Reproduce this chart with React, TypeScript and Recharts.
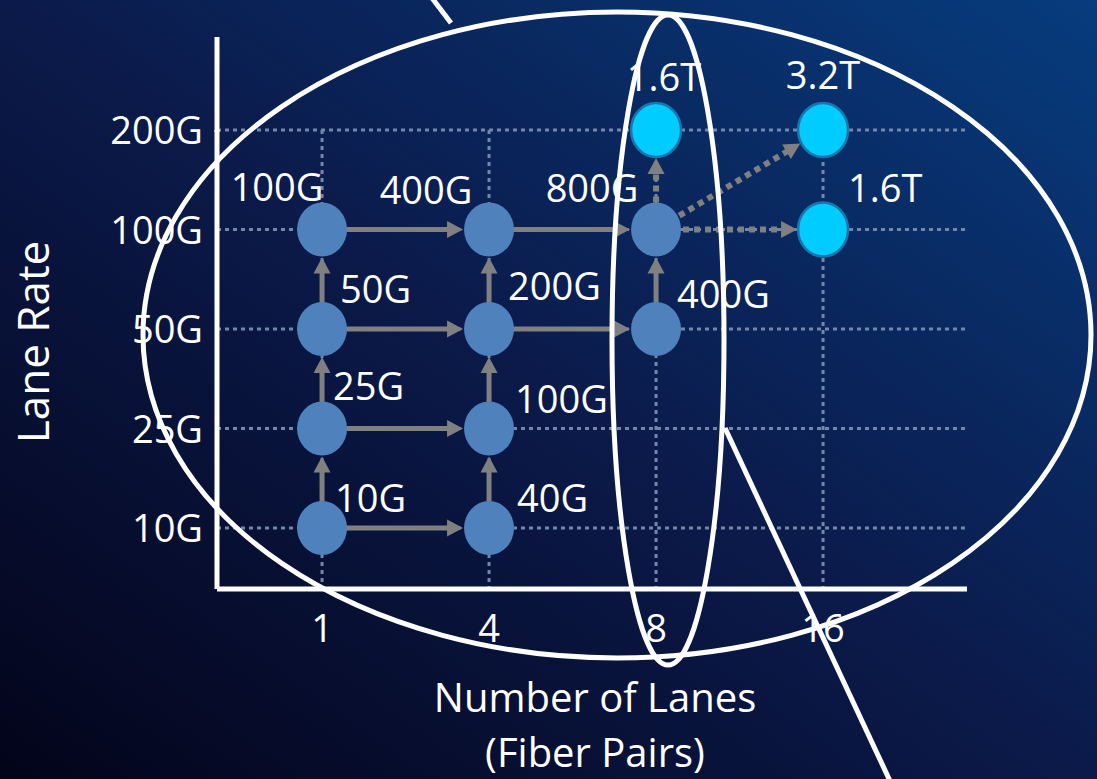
import { ScatterChart, Scatter, XAxis, YAxis, CartesianGrid, ReferenceLine } from 'recharts';

const lanes = ['1', '4', '8', '16'];
const rates = ['10G', '25G', '50G', '100G', '200G'];

const bluePoints = [
  { lane: '1', rate: '10G', label: '10G' },
  { lane: '1', rate: '25G', label: '25G' },
  { lane: '1', rate: '50G', label: '50G' },
  { lane: '1', rate: '100G', label: '100G' },
  { lane: '4', rate: '10G', label: '40G' },
  { lane: '4', rate: '25G', label: '100G' },
  { lane: '4', rate: '50G', label: '200G' },
  { lane: '4', rate: '100G', label: '400G' },
  { lane: '8', rate: '50G', label: '400G' },
  { lane: '8', rate: '100G', label: '800G' },
];

const cyanPoints = [
  { lane: '8', rate: '200G', label: '1.6T' },
  { lane: '16', rate: '200G', label: '3.2T' },
  { lane: '16', rate: '100G', label: '1.6T' },
];

// [fromLane, fromRate, toLane, toRate]
const solidArrows = [
  ['1', '10G', '4', '10G'],
  ['1', '25G', '4', '25G'],
  ['1', '50G', '4', '50G'],
  ['1', '100G', '4', '100G'],
  ['4', '50G', '8', '50G'],
  ['4', '100G', '8', '100G'],
  ['1', '10G', '1', '25G'],
  ['1', '25G', '1', '50G'],
  ['1', '50G', '1', '100G'],
  ['4', '10G', '4', '25G'],
  ['4', '25G', '4', '50G'],
  ['4', '50G', '4', '100G'],
  ['8', '50G', '8', '100G'],
];

const dottedArrows = [
  ['8', '100G', '8', '200G'],
  ['8', '100G', '16', '200G'],
  ['8', '100G', '16', '100G'],
];

// label offsets from the point centre
const placement: Record<string, { dx: number; dy: number; anchor: 'start' | 'middle' | 'end' }> = {
  '1-10G': { dx: 13, dy: -16, anchor: 'start' },
  '1-25G': { dx: 11, dy: -29, anchor: 'start' },
  '1-50G': { dx: 18, dy: -26, anchor: 'start' },
  '1-100G': { dx: -45, dy: -29, anchor: 'middle' },
  '4-10G': { dx: 28, dy: -16, anchor: 'start' },
  '4-25G': { dx: 26, dy: -16, anchor: 'start' },
  '4-50G': { dx: 19, dy: -29, anchor: 'start' },
  '4-100G': { dx: -63, dy: -26, anchor: 'middle' },
  '8-50G': { dx: 21, dy: -21, anchor: 'start' },
  '8-100G': { dx: -64, dy: -28, anchor: 'middle' },
  '8-200G': { dx: 8, dy: -39, anchor: 'middle' },
  '16-200G': { dx: 0, dy: -41, anchor: 'middle' },
  '16-100G': { dx: 25, dy: -28, anchor: 'start' },
};

const FONT = '"Open Sans", "Noto Sans", sans-serif';
const RX = 25;
const RY = 27;
const ARROW = '#808080';
const GRID = '#7387ab';
const X_DOMAIN = [-0.629, 3.862];

const pos = (lane: string, rate: string) => ({ x: lanes.indexOf(lane), y: rates.indexOf(rate) });
const toData = (pts: typeof bluePoints) => pts.map((p) => ({ ...p, ...pos(p.lane, p.rate) }));

const pointShape = (fill: string, stroke?: string) => (props: any) => {
  const { cx, cy, payload } = props;
  const p = placement[`${payload.lane}-${payload.rate}`];
  return (
    <g>
      <ellipse cx={cx} cy={cy} rx={RX} ry={RY} fill={fill} stroke={stroke || 'none'} strokeWidth={2.5} />
      <text x={cx + p.dx} y={cy + p.dy} textAnchor={p.anchor} fill="#fff" fontSize={38} fontFamily={FONT}>
        {payload.label}
      </text>
    </g>
  );
};

const arrowShape = (dotted: boolean) => (props: any) => {
  const { x1, y1, x2, y2 } = props;
  const dx = x2 - x1;
  const dy = y2 - y1;
  const len = Math.hypot(dx, dy);
  if (!len) return <g />;
  const ux = dx / len;
  const uy = dy / len;
  const edge = 1 / Math.sqrt((ux / RX) ** 2 + (uy / RY) ** 2);
  const start = dotted ? 16 : edge - 3;
  const tip = len - edge - 1;
  const head = 16;
  const half = 8.5;
  const sx = x1 + ux * start;
  const sy = y1 + uy * start;
  const tx = x1 + ux * tip;
  const ty = y1 + uy * tip;
  const bx = tx - ux * head;
  const by = ty - uy * head;
  return (
    <g>
      <line
        x1={sx}
        y1={sy}
        x2={bx + ux}
        y2={by + uy}
        stroke={ARROW}
        strokeWidth={dotted ? 6 : 5}
        strokeDasharray={dotted ? '6 5' : undefined}
      />
      <polygon
        points={`${tx},${ty} ${bx - uy * half},${by + ux * half} ${bx + uy * half},${by - ux * half}`}
        fill={ARROW}
      />
    </g>
  );
};

const XTick = (props: any) => {
  const { x, y, payload } = props;
  return (
    <text x={x} y={y + 45} textAnchor="middle" fill="#fff" fontSize={38} fontFamily={FONT}>
      {lanes[payload.value]}
    </text>
  );
};

const YTick = (props: any) => {
  const { x, y, payload } = props;
  return (
    <text x={x - 6} y={y + 14} textAnchor="end" fill="#fff" fontSize={38} fontFamily={FONT}>
      {rates[payload.value]}
    </text>
  );
};

const laneGrid = (args: any) => {
  const { xAxis, offset } = args;
  return lanes.map((_, i) => {
    if (xAxis && typeof xAxis.scale === 'function') return xAxis.scale(i);
    return offset.left + ((i - X_DOMAIN[0]) / (X_DOMAIN[1] - X_DOMAIN[0])) * offset.width;
  });
};

export default function App() {
  return (
    <div
      style={{
        position: 'absolute',
        left: 0,
        top: 0,
        width: 1097,
        height: 779,
        overflow: 'hidden',
        background: 'linear-gradient(to top right, #03041a 0%, #0b1a4a 50%, #073c7e 100%)',
      }}
    >
      <ScatterChart width={1097} height={779} margin={{ top: 130, right: 130, bottom: 130, left: 0 }}>
        <CartesianGrid
          stroke={GRID}
          strokeDasharray="4 4"
          strokeWidth={3}
          verticalCoordinatesGenerator={laneGrid}
        />
        <XAxis
          type="number"
          dataKey="x"
          domain={X_DOMAIN}
          ticks={[0, 1, 2, 3]}
          height={60}
          axisLine={{ stroke: '#fff', strokeWidth: 5 }}
          tickLine={false}
          tick={<XTick />}
        />
        <YAxis
          type="number"
          dataKey="y"
          domain={[-0.613, 4]}
          ticks={[0, 1, 2, 3, 4]}
          width={217}
          axisLine={{ stroke: '#fff', strokeWidth: 5 }}
          tickLine={false}
          tick={<YTick />}
        />
        <Scatter data={toData(bluePoints)} shape={pointShape('#4f81bd')} isAnimationActive={false} />
        <Scatter data={toData(cyanPoints)} shape={pointShape('#00ccff', '#1a74ae')} isAnimationActive={false} />
        {solidArrows.map(([fl, fr, tl, tr], i) => (
          <ReferenceLine
            key={`s${i}`}
            segment={[pos(fl, fr), pos(tl, tr)]}
            ifOverflow="visible"
            shape={arrowShape(false)}
          />
        ))}
        {dottedArrows.map(([fl, fr, tl, tr], i) => (
          <ReferenceLine
            key={`d${i}`}
            segment={[pos(fl, fr), pos(tl, tr)]}
            ifOverflow="visible"
            shape={arrowShape(true)}
          />
        ))}
      </ScatterChart>
      <svg
        width={1097}
        height={779}
        style={{ position: 'absolute', left: 0, top: 0, pointerEvents: 'none' }}
      >
        <line x1={217} y1={37} x2={217} y2={132} stroke="#fff" strokeWidth={5} />
        <text
          x={0}
          y={0}
          transform="translate(49,342) rotate(-90)"
          textAnchor="middle"
          fill="#fff"
          fontSize={44}
          fontFamily={FONT}
        >
          Lane Rate
        </text>
        <text x={595} y={712} textAnchor="middle" fill="#fff" fontSize={40} fontFamily={FONT}>
          Number of Lanes
        </text>
        <text x={595} y={767} textAnchor="middle" fill="#fff" fontSize={40} fontFamily={FONT}>
          (Fiber Pairs)
        </text>
        <ellipse cx={617} cy={335} rx={474} ry={323} fill="none" stroke="#fff" strokeWidth={5} />
        <ellipse cx={668} cy={340} rx={56} ry={325} fill="none" stroke="#fff" strokeWidth={5} />
        <line x1={432} y1={-2} x2={451} y2={23} stroke="#fff" strokeWidth={5} />
        <line x1={725} y1={428} x2={890} y2={781} stroke="#fff" strokeWidth={5} />
      </svg>
    </div>
  );
}
